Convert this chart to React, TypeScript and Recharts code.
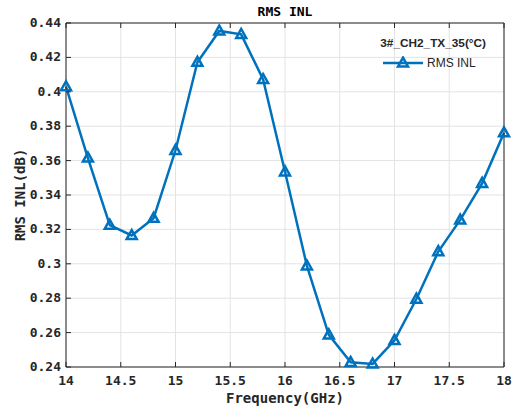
import { LineChart, Line, XAxis, YAxis, CartesianGrid, Legend } from "recharts";

const freqs = [14, 14.2, 14.4, 14.6, 14.8, 15, 15.2, 15.4, 15.6, 15.8, 16, 16.2, 16.4, 16.6, 16.8, 17, 17.2, 17.4, 17.6, 17.8, 18];
const rmsInl = [0.403, 0.3615, 0.3225, 0.3165, 0.3265, 0.366, 0.4172, 0.4354, 0.4334, 0.4072, 0.3535, 0.2988, 0.2587, 0.2427, 0.2418, 0.2555, 0.2795, 0.3071, 0.3255, 0.3468, 0.3762];

const xTicks = [14, 14.5, 15, 15.5, 16, 16.5, 17, 17.5, 18];
const yTicks = [0.24, 0.26, 0.28, 0.3, 0.32, 0.34, 0.36, 0.38, 0.4, 0.42, 0.44];

const seriesName = "RMS INL";
const legendTitle = "3#_CH2_TX_35(°C)";
const chartTitle = "RMS INL";
const xLabel = "Frequency(GHz)";
const yLabel = "RMS INL(dB)";

const data = freqs.map((f, i) => ({ f, v: rmsInl[i] }));

const BLUE = "#0072BD";
const AXIS = "#262626";
const MONO = "'DejaVu Sans Mono', monospace";
const SANS = "'Liberation Sans', Arial, sans-serif";

const fmt = (v: number) => String(parseFloat(v.toFixed(2)));

function LeftTick({ x, y, payload }: any) {
  return (
    <g>
      <line x1={x} y1={y} x2={x + 5} y2={y} stroke={AXIS} />
      <text x={x - 5} y={y} dy={4} textAnchor="end" fontSize={13} fontFamily={MONO} fontWeight="bold" fill={AXIS}>
        {fmt(payload.value)}
      </text>
    </g>
  );
}

function RightTick({ x, y }: any) {
  return <line x1={x - 5} y1={y} x2={x} y2={y} stroke={AXIS} />;
}

function BottomTick({ x, y, payload }: any) {
  return (
    <g>
      <line x1={x} y1={y - 5} x2={x} y2={y} stroke={AXIS} />
      <text x={x} y={y + 9} dy="0.71em" textAnchor="middle" fontSize={13} fontFamily={MONO} fontWeight="bold" fill={AXIS}>
        {fmt(payload.value)}
      </text>
    </g>
  );
}

function TopTick({ x, y }: any) {
  return <line x1={x} y1={y} x2={x} y2={y + 5} stroke={AXIS} />;
}

function Tri({ cx, cy, size = 10 }: any) {
  if (cx == null || cy == null) return null;
  const h = size * 0.9;
  const pts = `${cx},${cy - h * 0.6} ${cx - size / 2},${cy + h * 0.4} ${cx + size / 2},${cy + h * 0.4}`;
  return <polygon points={pts} fill="none" stroke={BLUE} strokeWidth={2.5} strokeLinejoin="miter" />;
}

function LegendBox() {
  return (
    <div style={{ width: 120, fontFamily: SANS, color: AXIS }}>
      <div style={{ fontSize: 11.8, fontWeight: "bold", textAlign: "right", lineHeight: "14px" }}>{legendTitle}</div>
      <div style={{ display: "flex", alignItems: "center", marginTop: 6, marginLeft: 17 }}>
        <svg width={40} height={14}>
          <line x1={0} y1={7} x2={40} y2={7} stroke={BLUE} strokeWidth={2.5} />
          <Tri cx={20} cy={7} />
        </svg>
        <span style={{ fontSize: 12, marginLeft: 4 }}>{seriesName}</span>
      </div>
    </div>
  );
}

export default function App() {
  return (
    <div style={{ position: "absolute", left: 0, top: 0, width: 512, height: 411, background: "#fff" }}>
      <div
        style={{
          position: "absolute",
          left: 66,
          width: 438,
          top: 4,
          textAlign: "center",
          fontFamily: MONO,
          fontWeight: "bold",
          fontSize: 13,
          color: "#000",
          zIndex: 2,
        }}
      >
        {chartTitle}
      </div>
      <LineChart width={512} height={411} data={data} margin={{ top: 0, right: 0, bottom: 0, left: 0 }}>
        <CartesianGrid xAxisId="bottom" yAxisId="left" stroke="#e3e3e3" />
        <XAxis
          xAxisId="bottom"
          dataKey="f"
          type="number"
          domain={[14, 18]}
          ticks={xTicks}
          height={44}
          tickSize={0}
          tickMargin={0}
          tick={<BottomTick />}
          tickLine={false}
          stroke={AXIS}
          interval={0}
          label={{
            content: ({ viewBox }: any) => (
              <text
                x={viewBox.x + viewBox.width / 2}
                y={viewBox.y + 36}
                textAnchor="middle"
                fontSize={14}
                fontFamily={MONO}
                fontWeight="bold"
                fill={AXIS}
              >
                {xLabel}
              </text>
            ),
          }}
        />
        <XAxis
          xAxisId="top"
          orientation="top"
          dataKey="f"
          type="number"
          domain={[14, 18]}
          ticks={xTicks}
          height={23}
          tickSize={0}
          tickMargin={0}
          tick={<TopTick />}
          tickLine={false}
          stroke={AXIS}
          interval={0}
        />
        <YAxis
          yAxisId="left"
          type="number"
          domain={[0.24, 0.44]}
          ticks={yTicks}
          width={66}
          tickSize={0}
          tickMargin={0}
          tick={<LeftTick />}
          tickLine={false}
          stroke={AXIS}
          interval={0}
          label={{
            content: ({ viewBox }: any) => {
              const cx = 20;
              const cy = viewBox.y + viewBox.height / 2;
              return (
                <text
                  x={cx}
                  y={cy}
                  transform={`rotate(-90 ${cx} ${cy})`}
                  textAnchor="middle"
                  dominantBaseline="central"
                  fontSize={14}
                  fontFamily={MONO}
                  fontWeight="bold"
                  fill={AXIS}
                >
                  {yLabel}
                </text>
              );
            },
          }}
        />
        <YAxis
          yAxisId="right"
          orientation="right"
          type="number"
          domain={[0.24, 0.44]}
          ticks={yTicks}
          width={8}
          tickSize={0}
          tickMargin={0}
          tick={<RightTick />}
          tickLine={false}
          stroke={AXIS}
          interval={0}
        />
        <Legend
          layout="vertical"
          align="center"
          verticalAlign="middle"
          content={() => <LegendBox />}
          wrapperStyle={{ position: "absolute", top: 36, left: 366, width: 120 }}
        />
        <Line
          xAxisId="bottom"
          yAxisId="left"
          dataKey="v"
          name={seriesName}
          stroke={BLUE}
          strokeWidth={2.5}
          dot={(p: any) => <Tri key={p.index} cx={p.cx} cy={p.cy} />}
          activeDot={false}
          isAnimationActive={false}
        />
      </LineChart>
    </div>
  );
}
